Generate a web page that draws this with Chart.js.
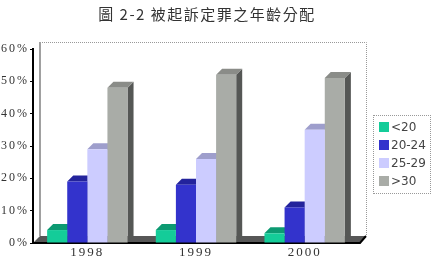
<!DOCTYPE html>
<html>
<head>
<meta charset="utf-8">
<script src="https://cdn.jsdelivr.net/npm/chart.js@4"></script>
<style>
    body { margin: 0; background: #ffffff; }
    #wrap { position: relative; width: 434px; height: 260px; }
    #title { position: absolute; left: 0; top: 3px; width: 414px; text-align: center;
             font: 15px "Noto Sans CJK TC"; color: #333; letter-spacing: 1.5px; }
    #legend { position: absolute; left: 373px; top: 115px; width: 58px; height: 79px;
              border: 1px dotted #999; box-sizing: border-box; padding-top: 4px; }
    .item { height: 18px; line-height: 18px; font: 12px "DejaVu Sans"; color: #444; white-space: nowrap; }
    .item i { display: inline-block; width: 10px; height: 10px; margin: 0 2px 0 5px; vertical-align: -1px; }
</style>
</head>
<body>
<div id="wrap">
    <canvas id="ages" width="434" height="260"></canvas>
    <div id="title">圖 2-2 被起訴定罪之年齡分配</div>
    <div id="legend"></div>
</div>
<script>
var years = ['1998', '1999', '2000'];
var seriesNames = ['<20', '20-24', '25-29', '>30'];
var under20 = [4, 4, 3];
var age20to24 = [19, 18, 11];
var age25to29 = [29, 26, 35];
var over30 = [48, 52, 51];
var yMax = 60;
var yStep = 10;

// front, top, side colours for each series
var faceColors = [
    ['#14cc99', '#0c9a72', '#0a7f5e'],
    ['#3333cc', '#23239c', '#1a1a80'],
    ['#ccccff', '#9e9ecc', '#8686b0'],
    ['#a9aca7', '#8a8c88', '#555755']
];

var DEPTH = 6;      // bar depth
var WALL = 7;       // back wall offset

var Bars3d = {
    id: 'bars3d',
    beforeDraw: function (chart) {
        // the old chart has its tick digits spaced out
        chart.ctx.letterSpacing = '2px';
    },
    afterDraw: function (chart) {
        chart.ctx.letterSpacing = '0px';
    },
    beforeDatasetsDraw: function (chart) {
        var ctx = chart.ctx;
        var area = chart.chartArea;

        ctx.save();
        // back wall
        ctx.strokeStyle = '#999';
        ctx.lineWidth = 1;
        ctx.setLineDash([1, 1]);
        ctx.beginPath();
        ctx.moveTo(area.left + WALL, area.top - WALL + 0.5);
        ctx.lineTo(area.right + WALL + 0.5, area.top - WALL + 0.5);
        ctx.lineTo(area.right + WALL + 0.5, area.bottom - WALL);
        ctx.stroke();
        ctx.setLineDash([]);
        ctx.strokeStyle = '#a0a0a0';
        ctx.lineWidth = 2;
        ctx.beginPath();
        ctx.moveTo(area.left + WALL, area.top - WALL);
        ctx.lineTo(area.left + WALL, area.bottom - WALL);
        ctx.stroke();

        // floor
        ctx.fillStyle = '#575757';
        ctx.beginPath();
        ctx.moveTo(area.left, area.bottom);
        ctx.lineTo(area.right, area.bottom);
        ctx.lineTo(area.right + WALL, area.bottom - WALL);
        ctx.lineTo(area.left + WALL, area.bottom - WALL);
        ctx.closePath();
        ctx.fill();
        ctx.strokeStyle = '#000';
        ctx.lineWidth = 2;
        ctx.beginPath();
        ctx.moveTo(area.left, area.bottom);
        ctx.lineTo(area.right + 1, area.bottom);
        ctx.lineTo(area.right + WALL, area.bottom - WALL);
        ctx.stroke();

        // tops and sides, fronts are drawn by chart.js afterwards
        chart.data.datasets.forEach(function (ds, i) {
            var meta = chart.getDatasetMeta(i);
            meta.data.forEach(function (bar) {
                var l = bar.x - bar.width / 2;
                var r = bar.x + bar.width / 2;
                var t = bar.y;
                var b = bar.base;

                ctx.fillStyle = faceColors[i][2];
                ctx.beginPath();
                ctx.moveTo(r, t);
                ctx.lineTo(r + DEPTH, t - DEPTH);
                ctx.lineTo(r + DEPTH, b - DEPTH);
                ctx.lineTo(r, b);
                ctx.closePath();
                ctx.fill();

                ctx.fillStyle = faceColors[i][1];
                ctx.beginPath();
                ctx.moveTo(l, t);
                ctx.lineTo(l + DEPTH, t - DEPTH);
                ctx.lineTo(r + DEPTH, t - DEPTH);
                ctx.lineTo(r, t);
                ctx.closePath();
                ctx.fill();
            });
        });
        ctx.restore();
    }
};

var datasets = [under20, age20to24, age25to29, over30].map(function (values, i) {
    return {
        label: seriesNames[i],
        data: values,
        backgroundColor: faceColors[i][0],
        borderWidth: 0,
        categoryPercentage: 0.74,
        barPercentage: 1.0
    };
});

new Chart(document.getElementById('ages'), {
    type: 'bar',
    data: { labels: years, datasets: datasets },
    plugins: [Bars3d],
    options: {
        responsive: false,
        animation: false,
        layout: { padding: { top: 49, right: 75, left: 0, bottom: 0 } },
        plugins: {
            legend: { display: false },
            title: { display: false },
            tooltip: { enabled: false }
        },
        scales: {
            x: {
                grid: { display: false, drawTicks: false },
                border: { display: false },
                ticks: { padding: 2, color: '#333', font: { family: 'Liberation Serif', size: 13 } },
                afterFit: function (scale) { scale.height = 17; }
            },
            y: {
                min: 0,
                max: yMax,
                ticks: {
                    stepSize: yStep,
                    padding: 1,
                    color: '#333',
                    font: { family: 'Liberation Serif', size: 12 },
                    callback: function (v) { return v + '%'; }
                },
                grid: { drawOnChartArea: false, tickLength: 3, color: '#000' },
                border: { color: '#000', width: 2 },
                afterFit: function (scale) { scale.width = 33; }
            }
        }
    }
});

// legend on the right
var legendHtml = '';
seriesNames.forEach(function (name, i) {
    legendHtml += '<div class="item"><i style="background:' + faceColors[i][0] + '"></i>' +
        name.replace('<', '&lt;').replace('>', '&gt;') + '</div>';
});
document.getElementById('legend').innerHTML = legendHtml;
</script>
</body>
</html>
